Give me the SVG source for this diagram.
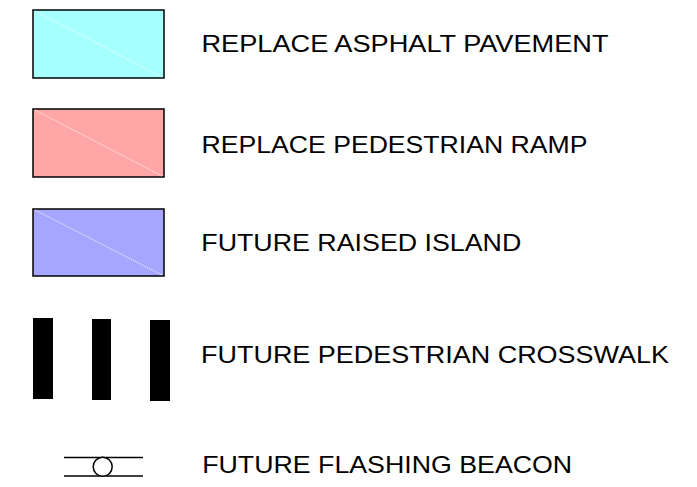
<svg xmlns="http://www.w3.org/2000/svg" width="697" height="487" viewBox="0 0 697 487">
<style>
.box{stroke:#000;stroke-width:1.5}
.diag{stroke:#fff;stroke-width:1;stroke-dasharray:1,1;fill:none}
.bar{fill:#000}
.lbl{font-family:"Liberation Sans",Arial,sans-serif;font-size:24px;fill:#000}
.ln{stroke:#000;stroke-width:1.5;fill:none}
</style>
<rect width="697" height="487" fill="#fff"/>
<g id="asphalt">
<rect class="box" x="33" y="10" width="131" height="68" fill="#A6FFFF"/>
<line class="diag" x1="35" y1="11" x2="162" y2="77"/>
<text class="lbl" x="201.5" y="52" textLength="407" lengthAdjust="spacingAndGlyphs">REPLACE ASPHALT PAVEMENT</text>
</g>
<g id="ramp">
<rect class="box" x="33" y="109" width="131" height="68" fill="#FFA6A6"/>
<line class="diag" x1="35" y1="110" x2="162" y2="176"/>
<text class="lbl" x="201.5" y="152.5" textLength="386" lengthAdjust="spacingAndGlyphs">REPLACE PEDESTRIAN RAMP</text>
</g>
<g id="island">
<rect class="box" x="33" y="209" width="131" height="67" fill="#A6A6FF"/>
<line class="diag" x1="35" y1="210" x2="162" y2="275"/>
<text class="lbl" x="201.3" y="250.5" textLength="320" lengthAdjust="spacingAndGlyphs">FUTURE RAISED ISLAND</text>
</g>
<g id="crosswalk">
<rect class="bar" x="33" y="318" width="20" height="81"/>
<rect class="bar" x="92" y="319" width="19" height="81"/>
<rect class="bar" x="150" y="320" width="20" height="81"/>
<text class="lbl" x="201" y="362.5" textLength="468" lengthAdjust="spacingAndGlyphs">FUTURE PEDESTRIAN CROSSWALK</text>
</g>
<g id="beacon">
<line class="ln" x1="64" y1="457.5" x2="143" y2="457.5"/>
<line class="ln" x1="64" y1="476" x2="143" y2="476"/>
<circle cx="102.7" cy="466.7" r="9.5" fill="#fff" stroke="#000" stroke-width="1.5"/>
<text class="lbl" x="202.2" y="472.5" textLength="370" lengthAdjust="spacingAndGlyphs">FUTURE FLASHING BEACON</text>
</g>
</svg>
